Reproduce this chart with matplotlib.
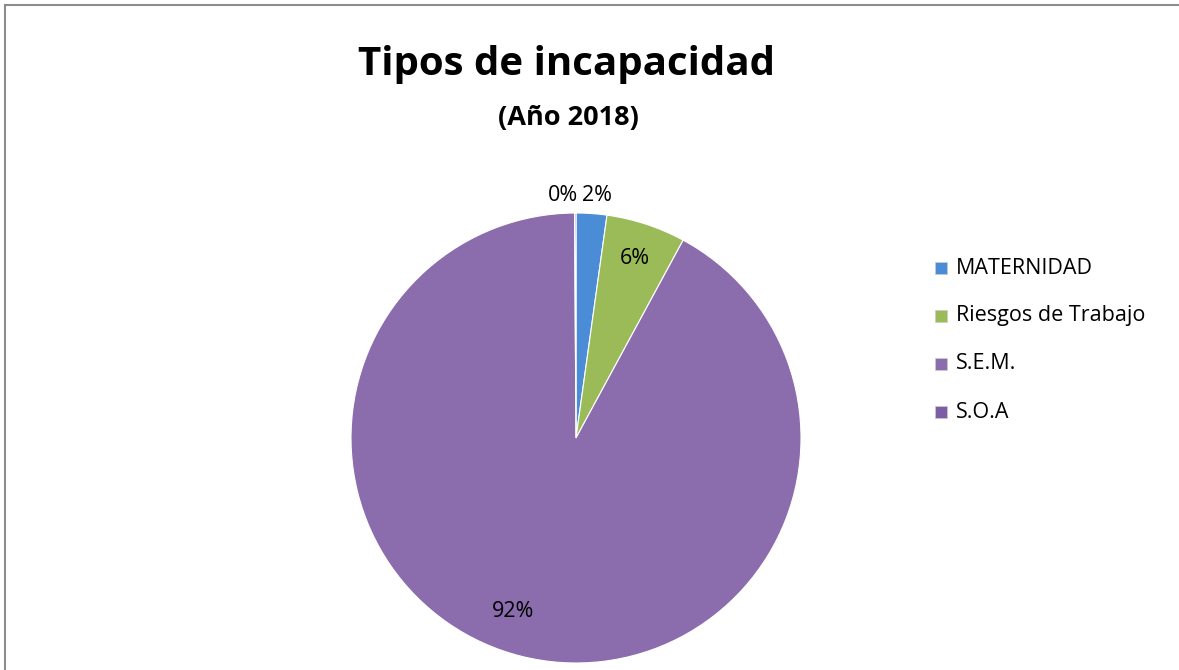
import numpy as np
import matplotlib
matplotlib.use('Agg')
import matplotlib.pyplot as plt

plt.rcParams['font.family'] = ['Open Sans', 'DejaVu Sans']

# datos del grafico
categorias = ['MATERNIDAD', 'Riesgos de Trabajo', 'S.E.M.', 'S.O.A']
valores = [2.2, 5.7, 92.0, 0.1]
etiquetas = ['2%', '6%', '92%', '0%']
colores = ['#4A8CD6', '#9BBB59', '#8B6CAD', '#7D5DA3']
# posicion de etiquetas: distancia radial y giro (grados) respecto al centro de la porcion
dist_etiqueta = [1.08, 0.84, 0.82, 1.08]
giro_etiqueta = [-1, 0, -6, 3]

fig = plt.figure(figsize=(11.79, 6.70), dpi=100)
W, H = 1179, 670

# marco gris (solo arriba e izquierda visibles)
fig.add_artist(plt.Line2D([5/W, 5/W], [0, 1-5/H], color='#8c8c8c', lw=1.5))
fig.add_artist(plt.Line2D([5/W, 1], [1-5/H, 1-5/H], color='#8c8c8c', lw=1.5))

ax = fig.add_axes([351/W, 7/H, 450/W, 450/H])
wedges, _ = ax.pie(valores, colors=colores, startangle=90, counterclock=False,
                   radius=1, wedgeprops=dict(edgecolor='white', linewidth=0.8))
ax.set_xlim(-1, 1)
ax.set_ylim(-1, 1)
ax.set_aspect('equal')
ax.axis('off')

# etiquetas de porcentaje
for w, txt, d, g in zip(wedges, etiquetas, dist_etiqueta, giro_etiqueta):
    ang = np.deg2rad((w.theta1 + w.theta2) / 2 + g)
    ax.text(d*np.cos(ang), d*np.sin(ang), txt, ha='center', va='center',
            fontsize=15.5, color='black')

fig.text(567/W, 1-65/H, 'Tipos de incapacidad', ha='center', va='center',
         fontsize=29, fontweight='bold')
fig.text(568/W, 1-118/H, '(Año 2018)', ha='center', va='center',
         fontsize=19.5, fontweight='bold')

# leyenda
ys = [268, 316, 364, 412]
for cat, col, y in zip(categorias, colores, ys):
    fig.patches.append(plt.Rectangle((935/W, 1-(y+6)/H), 12/W, 12/H,
                                     transform=fig.transFigure, facecolor=col,
                                     edgecolor='#cccccc', lw=0.5))
    fig.text(956/W, 1-y/H, cat, ha='left', va='center', fontsize=15.5)

fig.savefig('out.png', dpi=100)
